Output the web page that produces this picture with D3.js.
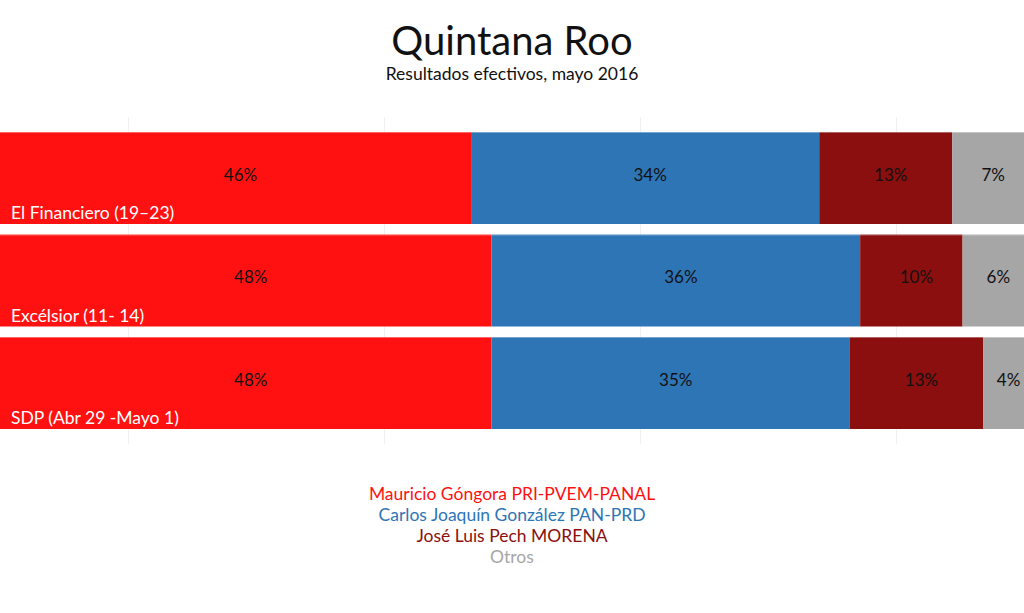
<!DOCTYPE html>
<html>
<head>
<meta charset="utf-8">
<script src="https://cdn.jsdelivr.net/npm/d3@7"></script>
<style>
  html, body { margin: 0; padding: 0; background: #fff; }
  svg { display: block; font-family: Lato, "Open Sans", sans-serif; }
</style>
</head>
<body>
<svg id="chart" width="1024" height="613"></svg>
<script>
const polls = ["El Financiero (19\u201323)", "Excélsior (11- 14)", "SDP (Abr 29 -Mayo 1)"];
const seriesNames = ["Mauricio Góngora PRI-PVEM-PANAL", "Carlos Joaquín González PAN-PRD", "José Luis Pech MORENA", "Otros"];
const gongora = [46, 48, 48];
const joaquin = [34, 36, 35];
const pech = [13, 10, 13];
const otros = [7, 6, 4];
const gridTicks = [12.5, 37.5, 62.5, 87.5];
const colors = ["#ff1111", "#2e75b6", "#8b0f0f", "#a6a6a6"];

const W = 1024, H = 613;
const svg = d3.select("#chart");

const rows = polls.map((p, i) => ({poll: p, s0: gongora[i], s1: joaquin[i], s2: pech[i], s3: otros[i]}));
const keys = ["s0", "s1", "s2", "s3"];
const stacked = d3.stack().keys(keys)(rows);

const x = d3.scaleLinear().domain([0, 100]).range([0, W]);
const y = d3.scaleBand().domain(polls).range([132, 429]).paddingInner(10.5 / 102.5).paddingOuter(0);

// gridlines
svg.append("g").selectAll("line").data(gridTicks).join("line")
  .attr("x1", d => Math.round(x(d)) + 0.5).attr("x2", d => Math.round(x(d)) + 0.5)
  .attr("y1", 117).attr("y2", 444)
  .attr("stroke", "#f0f0f0").attr("stroke-width", 1);

// title
svg.append("text").attr("x", W / 2).attr("y", 55).attr("text-anchor", "middle")
  .attr("font-size", 40).attr("fill", "#111").text("Quintana Roo");
svg.append("text").attr("x", W / 2).attr("y", 80).attr("text-anchor", "middle")
  .attr("font-size", 17.5).attr("fill", "#111").text("Resultados efectivos, mayo 2016");

// bars
const g = svg.append("g");
stacked.forEach((layer, li) => {
  const lg = g.append("g").attr("fill", colors[li]);
  lg.selectAll("rect").data(layer).join("rect")
    .attr("x", d => x(d[0]))
    .attr("width", d => x(d[1]) - x(d[0]))
    .attr("y", d => y(d.data.poll))
    .attr("height", y.bandwidth());
  lg.selectAll("line").data(layer).join("line")
    .attr("x1", d => x(d[0])).attr("x2", d => x(d[1]))
    .attr("y1", d => y(d.data.poll) + 0.5).attr("y2", d => y(d.data.poll) + 0.5)
    .attr("stroke", "#fff").attr("stroke-opacity", 0.35);
  g.append("g").selectAll("text").data(layer).join("text")
    .attr("x", d => (x(d[0]) + x(d[1])) / 2 + 5)
    .attr("y", d => y(d.data.poll) + y.bandwidth() / 2 - 3)
    .attr("dy", "0.35em")
    .attr("text-anchor", "middle")
    .attr("font-size", 17).attr("fill", "#111")
    .text(d => (d[1] - d[0]) + "%");
});

// category labels
g.append("g").selectAll("text").data(polls).join("text")
  .attr("x", 11).attr("y", d => y(d) + y.bandwidth() - 5)
  .attr("font-size", 17.5).attr("fill", "#fff")
  .text(d => d);

// legend
svg.append("g").selectAll("text").data(seriesNames).join("text")
  .attr("x", W / 2).attr("y", (d, i) => 494 + i * 21).attr("dy", "0.35em")
  .attr("text-anchor", "middle").attr("font-size", 17.5)
  .attr("fill", (d, i) => colors[i])
  .text(d => d);
</script>
</body>
</html>
